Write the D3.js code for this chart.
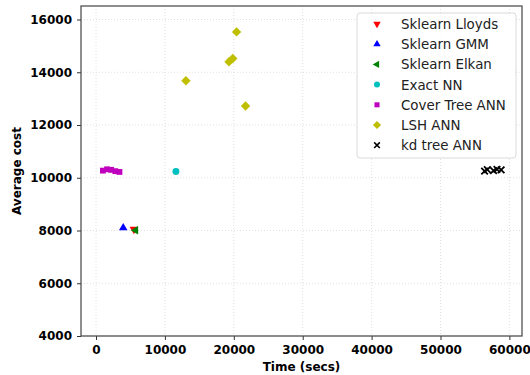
<!DOCTYPE html>
<html>
<head>
<meta charset="utf-8">
<script src="https://cdn.jsdelivr.net/npm/d3@7"></script>
<style>
  body { margin: 0; background: #fff; }
  svg { display: block; }
</style>
</head>
<body>
<div id="chart"></div>
<script>
// series names in legend order
const names = ["Sklearn Lloyds", "Sklearn GMM", "Sklearn Elkan", "Exact NN", "Cover Tree ANN", "LSH ANN", "kd tree ANN"];
const colors = ["#ff0000", "#0000ff", "#008000", "#00bfbf", "#bf00bf", "#bfbf00", "#000000"];

// time (secs) and average cost per series
const lloydsTime = [5500];
const lloydsCost = [8050];
const gmmTime = [3950];
const gmmCost = [8100];
const elkanTime = [5750];
const elkanCost = [8010];
const exactTime = [11600];
const exactCost = [10240];
const coverTime = [1000, 1600, 2200, 2800, 3400];
const coverCost = [10270, 10320, 10300, 10250, 10220];
const lshTime = [13050, 19300, 19850, 20400, 21700];
const lshCost = [13680, 14400, 14520, 15530, 12720];
const kdTime = [56400, 56800, 57700, 58200, 58800];
const kdCost = [10250, 10310, 10270, 10320, 10300];

const xTicks = [0, 10000, 20000, 30000, 40000, 50000, 60000];
const yTicks = [4000, 6000, 8000, 10000, 12000, 14000, 16000];

const width = 530, height = 375;
const mLeft = 81, mRight = 522, mTop = 6, mBottom = 336;

const svg = d3.select("#chart").append("svg")
  .attr("width", width)
  .attr("height", height);

const x = d3.scaleLinear().domain([-2180, 61830]).range([mLeft, mRight]);
const y = d3.scaleLinear().domain([4000, 16512]).range([mBottom, mTop]);

// grid
svg.append("g").selectAll("line").data(xTicks).enter().append("line")
  .attr("x1", d => x(d)).attr("x2", d => x(d))
  .attr("y1", mTop).attr("y2", mBottom)
  .attr("stroke", "#d8d8d8").attr("stroke-dasharray", "1,2").attr("stroke-width", 0.8);
svg.append("g").selectAll("line").data(yTicks).enter().append("line")
  .attr("x1", mLeft).attr("x2", mRight)
  .attr("y1", d => y(d)).attr("y2", d => y(d))
  .attr("stroke", "#d8d8d8").attr("stroke-dasharray", "1,2").attr("stroke-width", 0.8);

// axes
const xAxis = svg.append("g")
  .attr("transform", "translate(0," + mBottom + ")")
  .call(d3.axisBottom(x).tickValues(xTicks).tickFormat(d3.format("d")).tickSize(4).tickPadding(5));
const yAxis = svg.append("g")
  .attr("transform", "translate(" + mLeft + ",0)")
  .call(d3.axisLeft(y).tickValues(yTicks).tickFormat(d3.format("d")).tickSize(4).tickPadding(5));
[xAxis, yAxis].forEach(a => {
  a.select(".domain").remove();
  a.selectAll("line").attr("stroke", "#333");
  a.selectAll("text")
    .style("font-family", "DejaVu Sans")
    .style("font-weight", "bold")
    .style("font-size", "12px")
    .attr("fill", "#000");
});

// frame
svg.append("rect")
  .attr("x", mLeft).attr("y", mTop)
  .attr("width", mRight - mLeft).attr("height", mBottom - mTop)
  .attr("fill", "none").attr("stroke", "#444").attr("stroke-width", 1.2);

// axis labels
svg.append("text")
  .attr("x", (mLeft + mRight) / 2).attr("y", 371)
  .attr("text-anchor", "middle")
  .style("font-family", "DejaVu Sans").style("font-weight", "bold").style("font-size", "12px")
  .text("Time (secs)");
svg.append("text")
  .attr("transform", "translate(21," + (mTop + mBottom) / 2 + ") rotate(-90)")
  .attr("text-anchor", "middle")
  .style("font-family", "DejaVu Sans").style("font-weight", "bold").style("font-size", "12px")
  .text("Average cost");

// marker shapes
const timesType = d3.symbolTimes || d3.symbolCross;
const shapes = [
  { type: d3.symbolTriangle, size: 32, rot: 180 },
  { type: d3.symbolTriangle, size: 32, rot: 0 },
  { type: d3.symbolTriangle, size: 32, rot: -90 },
  { type: d3.symbolCircle, size: 38, rot: 0 },
  { type: d3.symbolSquare, size: 34, rot: 0 },
  { type: d3.symbolSquare, size: 44, rot: 45 },
  { type: timesType, size: 30, rot: 0, stroke: true }
];

const series = [
  [lloydsTime, lloydsCost],
  [gmmTime, gmmCost],
  [elkanTime, elkanCost],
  [exactTime, exactCost],
  [coverTime, coverCost],
  [lshTime, lshCost],
  [kdTime, kdCost]
];

series.forEach((sr, i) => {
  const pts = sr[0].map((t, j) => [t, sr[1][j]]);
  const s = shapes[i];
  svg.append("g").selectAll("path").data(pts).enter().append("path")
    .attr("d", d3.symbol().type(s.type).size(s.size)())
    .attr("transform", d => "translate(" + x(d[0]) + "," + y(d[1]) + ") rotate(" + s.rot + ")")
    .attr("fill", s.stroke ? "none" : colors[i])
    .attr("stroke", s.stroke ? colors[i] : "none")
    .attr("stroke-width", s.stroke ? 1.8 : 0);
});

// legend
const lg = svg.append("g");
lg.append("rect")
  .attr("x", 357).attr("y", 13).attr("width", 159).attr("height", 145)
  .attr("rx", 3).attr("fill", "#fff").attr("fill-opacity", 0.85)
  .attr("stroke", "#d0d0d0").attr("stroke-width", 0.8);
names.forEach((n, i) => {
  const cy = 24 + i * 20.2;
  const s = shapes[i];
  lg.append("path")
    .attr("d", d3.symbol().type(s.type).size(s.size * 0.75)())
    .attr("transform", "translate(377," + cy + ") rotate(" + s.rot + ")")
    .attr("fill", s.stroke ? "none" : colors[i])
    .attr("stroke", s.stroke ? colors[i] : "none")
    .attr("stroke-width", s.stroke ? 1.6 : 0);
  lg.append("text")
    .attr("x", 401).attr("y", cy + 5)
    .style("font-family", "DejaVu Sans").style("font-size", "13.4px")
    .attr("fill", "#222")
    .text(n);
});
</script>
</body>
</html>
